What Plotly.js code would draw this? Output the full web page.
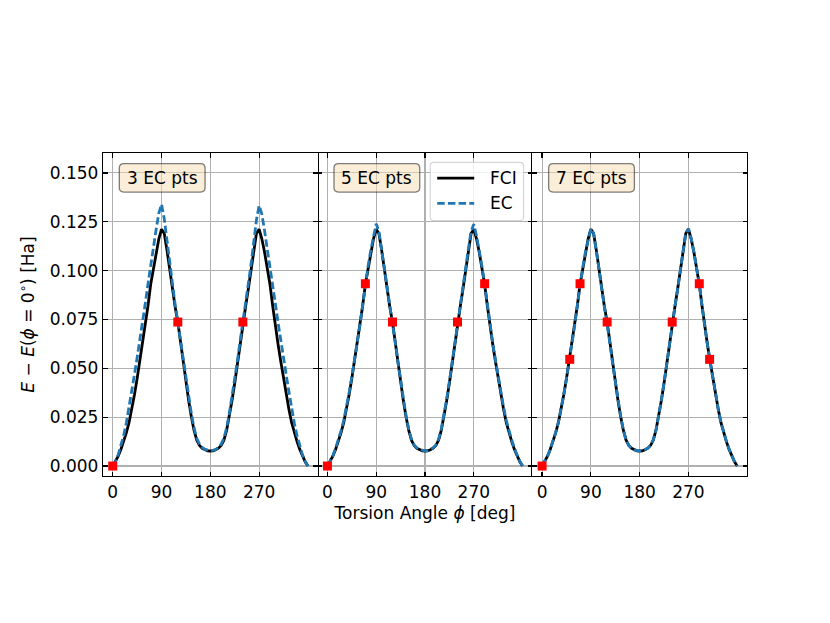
<!DOCTYPE html>
<html>
<head>
<meta charset="utf-8">
<script src="https://cdn.plot.ly/plotly-3.0.1.min.js"></script>
<style>html,body{margin:0;padding:0;background:#fff}</style>
</head>
<body>
<div id="chart" style="width:830px;height:623px"></div>
<script>
// ---- data ----
const phi = [0,5,10,15,20,25,30,35,40,45,50,55,60,65,70,75,80,85,90,95,100,105,110,115,120,125,130,135,140,145,150,155,160,165,170,175,180,
  185,190,195,200,205,210,215,220,225,230,235,240,245,250,255,260,265,270,275,280,285,290,295,300,305,310,315,320,325,330,335,340,345,350,355,360];

const fci = [0.0000,0.0022,0.0050,0.0085,0.0125,0.0170,0.0222,0.0290,0.0365,0.0448,0.0535,0.0622,0.0715,0.0820,0.0930,0.1015,0.1095,0.1163,0.1212,0.1190,0.1105,0.1005,0.0905,0.0815,0.0737,0.0630,0.0525,0.0425,0.0335,0.0252,0.0182,0.0132,0.0105,0.0091,0.0083,0.0078,0.0077,
  0.0078,0.0083,0.0091,0.0105,0.0132,0.0182,0.0252,0.0335,0.0425,0.0525,0.0630,0.0737,0.0815,0.0905,0.1005,0.1105,0.1190,0.1212,0.1163,0.1095,0.1015,0.0930,0.0820,0.0715,0.0622,0.0535,0.0448,0.0365,0.0290,0.0222,0.0170,0.0125,0.0085,0.0050,0.0022,0.0000];

const ec3 = [0.0000,0.0024,0.0058,0.0102,0.0155,0.0220,0.0298,0.0382,0.0468,0.0555,0.0640,0.0735,0.0832,0.0932,0.1030,0.1120,0.1210,0.1295,0.1340,0.1265,0.1150,0.1035,0.0928,0.0828,0.0737,0.0640,0.0540,0.0443,0.0352,0.0268,0.0195,0.0142,0.0112,0.0095,0.0085,0.0080,0.0079,
  0.0080,0.0085,0.0095,0.0112,0.0142,0.0195,0.0268,0.0352,0.0443,0.0540,0.0640,0.0737,0.0826,0.0925,0.1030,0.1145,0.1258,0.1333,0.1290,0.1205,0.1117,0.1027,0.0930,0.0830,0.0733,0.0638,0.0553,0.0466,0.0380,0.0296,0.0219,0.0154,0.0101,0.0057,0.0024,0.0000];

const ec5 = [0.0000,0.0023,0.0053,0.0090,0.0133,0.0180,0.0233,0.0300,0.0375,0.0457,0.0542,0.0628,0.0720,0.0823,0.0932,0.1022,0.1105,0.1180,0.1240,0.1200,0.1110,0.1008,0.0908,0.0818,0.0737,0.0635,0.0532,0.0433,0.0343,0.0260,0.0188,0.0137,0.0108,0.0093,0.0084,0.0079,0.0078,
  0.0079,0.0084,0.0093,0.0108,0.0137,0.0188,0.0260,0.0343,0.0433,0.0532,0.0635,0.0737,0.0818,0.0908,0.1008,0.1110,0.1200,0.1238,0.1180,0.1105,0.1022,0.0932,0.0823,0.0720,0.0628,0.0542,0.0457,0.0375,0.0300,0.0233,0.0180,0.0133,0.0090,0.0053,0.0023,0.0000];

const ec7 = [0.0000,0.0022,0.0050,0.0086,0.0126,0.0171,0.0223,0.0291,0.0366,0.0449,0.0536,0.0622,0.0716,0.0821,0.0931,0.1016,0.1096,0.1165,0.1215,0.1192,0.1106,0.1006,0.0906,0.0816,0.0737,0.0631,0.0526,0.0426,0.0336,0.0253,0.0183,0.0133,0.0106,0.0091,0.0083,0.0078,0.0077,
  0.0078,0.0083,0.0091,0.0106,0.0133,0.0183,0.0253,0.0336,0.0426,0.0526,0.0631,0.0737,0.0816,0.0906,0.1006,0.1106,0.1192,0.1215,0.1165,0.1096,0.1016,0.0931,0.0821,0.0716,0.0622,0.0536,0.0449,0.0366,0.0291,0.0223,0.0171,0.0126,0.0086,0.0050,0.0022,0.0000];

const pts3_phi = [0,120,240];
const pts3_E   = [0.0000,0.0737,0.0737];
const pts5_phi = [0,70,120,240,290];
const pts5_E   = [0.0000,0.0933,0.0737,0.0737,0.0933];
const pts7_phi = [0,51,70,120,240,290,309];
const pts7_E   = [0.0000,0.0546,0.0933,0.0737,0.0737,0.0933,0.0546];

const panelLabels = ['3 EC pts','5 EC pts','7 EC pts'];
const legendLabels = ['FCI','EC'];
const xTicks = [0,90,180,270];
const yTicks = [0,0.025,0.05,0.075,0.1,0.125,0.15];

// ---- figure ----
const FONT = 'DejaVu Sans, sans-serif';
const W = 830, H = 623;
const L = 103, R = 746.6, T = 153.3, B = 475.7;
const PW = R - L, PH = B - T;
const px = v => (v - L) / PW;
const py = v => (B - v) / PH;
const BLUE = '#1f77b4';
const DASH = '7.5px,3.2px';

const ecs = [ec3, ec5, ec7];
const pts = [[pts3_phi, pts3_E],[pts5_phi, pts5_E],[pts7_phi, pts7_E]];
const traces = [];
for (let i = 0; i < 3; i++) {
  const xa = i === 0 ? 'x' : 'x' + (i + 1);
  const ya = i === 0 ? 'y' : 'y' + (i + 1);
  traces.push({x: phi, y: fci, xaxis: xa, yaxis: ya, mode: 'lines', name: legendLabels[0],
    line: {color: '#000000', width: 2.8}, showlegend: false, hoverinfo: 'skip'});
  traces.push({x: phi, y: ecs[i], xaxis: xa, yaxis: ya, mode: 'lines', name: legendLabels[1],
    line: {color: BLUE, width: 2.8, dash: DASH}, showlegend: false, hoverinfo: 'skip'});
  traces.push({x: pts[i][0], y: pts[i][1], xaxis: xa, yaxis: ya, mode: 'markers', name: 'EC points',
    marker: {symbol: 'square', size: 9, color: '#ff0000'}, showlegend: false, hoverinfo: 'skip', cliponaxis: false});
}

const common = {
  linecolor: '#000', linewidth: 1.2,
  ticks: 'inside', ticklen: 4.5, tickwidth: 1.2, tickcolor: '#000',
  showgrid: true, gridcolor: '#b0b0b0', gridwidth: 1.1, zeroline: false,
  tickfont: {family: FONT, size: 17, color: '#000'}
};

const layout = {
  width: W, height: H,
  margin: {l: L, r: W - R, t: T, b: H - B, pad: 0},
  paper_bgcolor: '#fff', plot_bgcolor: '#fff',
  font: {family: FONT, size: 17, color: '#000'},
  showlegend: false,
  shapes: [], annotations: []
};

for (let i = 0; i < 3; i++) {
  const sfx = i === 0 ? '' : String(i + 1);
  layout['xaxis' + sfx] = Object.assign({}, common, {
    domain: [i / 3, (i + 1) / 3], range: [-18, 378], anchor: 'y' + sfx,
    showline: true, mirror: 'ticks',
    tickvals: xTicks, ticktext: xTicks.map(String)
  });
  layout['yaxis' + sfx] = Object.assign({}, common, {
    domain: [0, 1], range: [-0.0051, 0.1602], anchor: 'x' + sfx,
    showline: i !== 1, mirror: 'ticks',
    tickvals: yTicks, ticktext: yTicks.map(v => v.toFixed(3)),
    showticklabels: i === 0
  });
  if (i > 0) layout['yaxis' + sfx].matches = 'y';
}
layout.yaxis.title = {text: '<i>E</i> − <i>E</i>(<i>ϕ</i> = 0<sup>∘</sup>) [Ha]', font: {family: FONT, size: 17, color: '#000'}, standoff: 10};
layout.xaxis2.title = {text: 'Torsion Angle <i>ϕ</i> [deg]', font: {family: FONT, size: 17, color: '#000'}, standoff: 6};

// rounded boxes in pixel coordinates
function rbox(x0, y0, x1, y1, r) {
  const P = (a, b) => px(a).toFixed(5) + ',' + py(b).toFixed(5);
  return 'M' + P(x0 + r, y0) + ' L' + P(x1 - r, y0) + ' Q' + P(x1, y0) + ' ' + P(x1, y0 + r) +
    ' L' + P(x1, y1 - r) + ' Q' + P(x1, y1) + ' ' + P(x1 - r, y1) +
    ' L' + P(x0 + r, y1) + ' Q' + P(x0, y1) + ' ' + P(x0, y1 - r) +
    ' L' + P(x0, y0 + r) + ' Q' + P(x0, y0) + ' ' + P(x0 + r, y0) + ' Z';
}
for (let i = 0; i < 3; i++) {
  const left = L + i * PW / 3;
  layout.shapes.push({type: 'path', xref: 'paper', yref: 'paper',
    path: rbox(left + 16.3, 164, left + 102, 192.3, 4.5),
    fillcolor: 'rgba(245,222,179,0.5)', line: {color: 'rgba(0,0,0,0.5)', width: 1.3}, layer: 'above'});
  layout.annotations.push({xref: 'paper', yref: 'paper', x: px(left + 59.2), y: py(178.3),
    xanchor: 'center', yanchor: 'middle', showarrow: false, text: panelLabels[i],
    font: {family: FONT, size: 17, color: '#000'}});
}

// legend (drawn in panel 2)
layout.shapes.push({type: 'path', xref: 'paper', yref: 'paper',
  path: rbox(430, 162.7, 523.3, 220.7, 3.5),
  fillcolor: 'rgba(255,255,255,0.8)', line: {color: 'rgba(204,204,204,0.8)', width: 1.2}, layer: 'above'});
const legRows = [178.3, 203.5];
const legStyles = [{color: '#000', width: 2.8}, {color: BLUE, width: 2.8, dash: DASH}];
for (let k = 0; k < 2; k++) {
  layout.shapes.push({type: 'line', xref: 'paper', yref: 'paper',
    x0: px(437), x1: px(474), y0: py(legRows[k]), y1: py(legRows[k]),
    line: legStyles[k], layer: 'above'});
  layout.annotations.push({xref: 'paper', yref: 'paper', x: px(487.5), y: py(legRows[k]),
    xanchor: 'left', yanchor: 'middle', showarrow: false, text: legendLabels[k],
    font: {family: FONT, size: 17, color: '#000'}});
}

Plotly.newPlot('chart', traces, layout, {staticPlot: true, displayModeBar: false});
</script>
</body>
</html>
